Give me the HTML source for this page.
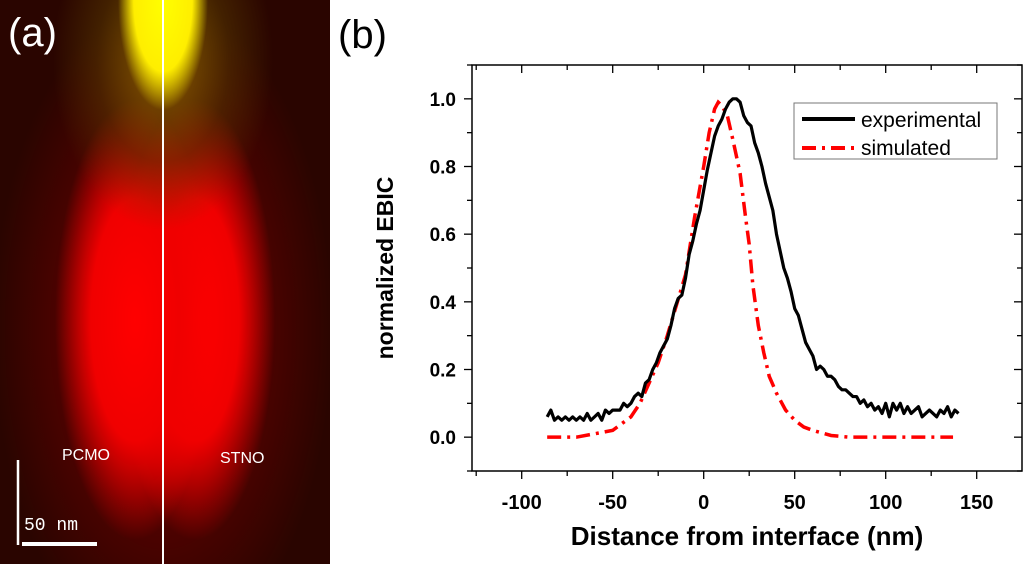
<!DOCTYPE html>
<html><head><meta charset="utf-8"><style>
body{margin:0;background:#fff;width:1024px;height:564px;overflow:hidden;position:relative;font-family:"Liberation Sans",sans-serif}
#img{position:absolute;left:0;top:0;width:330px;height:564px;background:
radial-gradient(ellipse 45px 110px at 163px 0px,#ffff00 0%,#ffee00 65%,rgba(255,200,0,0) 100%),
radial-gradient(ellipse 110px 170px at 163px 60px,rgba(150,110,0,0.85) 0%,rgba(90,60,0,0.5) 60%,rgba(0,0,0,0) 100%),
radial-gradient(ellipse 80px 220px at 135px 320px,#ff0000 0%,#f00000 55%,rgba(200,0,0,0) 100%),
radial-gradient(ellipse 80px 220px at 195px 320px,#ff0000 0%,#f00000 55%,rgba(200,0,0,0) 100%),
radial-gradient(ellipse 170px 330px at 163px 330px,rgba(170,0,0,0.9) 0%,rgba(100,0,0,0.6) 60%,rgba(30,0,0,0) 100%),
#2a0500}
</style></head><body>
<div id="img"></div>
<svg width="1024" height="564" style="position:absolute;left:0;top:0">
<text x="8" y="46" font-size="40" fill="#fff">(a)</text>
<line x1="163" y1="0" x2="163" y2="564" stroke="#fff" stroke-width="2"/>
<text x="62" y="460" font-size="16" fill="#fff">PCMO</text>
<text x="220" y="463" font-size="16" fill="#fff">STNO</text>
<line x1="18" y1="460" x2="18" y2="545" stroke="#fff" stroke-width="2.5"/>
<line x1="22" y1="544" x2="97" y2="544" stroke="#fff" stroke-width="4"/>
<text x="24" y="530" font-size="18" fill="#fff" font-family="Liberation Mono,monospace">50 nm</text>
<text x="338" y="48" font-size="40" fill="#000">(b)</text>
<g id="plot"></g>
</svg>
<script>
const expX=[-86,-84,-82,-80,-78,-76,-74,-72,-70,-68,-66,-64,-62,-60,-58,-56,-54,-52,-50,-48,-46,-44,-42,-40,-38,-36,-34,-32,-30,-28,-26,-24,-22,-20,-18,-16,-14,-12,-10,-8,-6,-4,-2,0,2,4,6,8,10,12,14,16,18,20,22,24,26,28,30,32,34,36,38,40,42,44,46,48,50,52,54,56,58,60,62,64,66,68,70,72,74,76,78,80,82,84,86,88,90,92,94,96,98,100,102,104,106,108,110,112,114,116,118,120,122,124,126,128,130,132,134,136,138,140];
const expY=[0.06,0.08,0.05,0.06,0.05,0.06,0.05,0.06,0.05,0.06,0.05,0.07,0.05,0.06,0.07,0.05,0.08,0.07,0.08,0.08,0.08,0.1,0.09,0.1,0.12,0.13,0.12,0.16,0.17,0.2,0.22,0.25,0.27,0.29,0.33,0.38,0.41,0.42,0.47,0.54,0.58,0.63,0.67,0.73,0.79,0.84,0.89,0.92,0.94,0.97,0.99,1.0,1.0,0.99,0.95,0.93,0.92,0.87,0.84,0.8,0.75,0.71,0.67,0.6,0.55,0.5,0.47,0.43,0.38,0.36,0.32,0.28,0.26,0.24,0.2,0.21,0.2,0.18,0.18,0.17,0.15,0.14,0.14,0.13,0.12,0.12,0.1,0.11,0.09,0.1,0.08,0.09,0.07,0.1,0.06,0.1,0.08,0.1,0.07,0.09,0.07,0.08,0.09,0.06,0.07,0.08,0.07,0.06,0.08,0.07,0.09,0.06,0.08,0.07];
const simX=[-86,-70,-60,-50,-40,-35,-30,-25,-20,-15,-10,-5,0,3,6,8,10,13,16,20,23,25,27,30,33,36,40,45,50,55,60,70,80,137];
const simY=[0,0,0.01,0.02,0.06,0.1,0.16,0.22,0.3,0.39,0.48,0.65,0.8,0.9,0.97,0.99,0.98,0.95,0.88,0.78,0.65,0.57,0.45,0.33,0.25,0.18,0.13,0.08,0.05,0.03,0.02,0.005,0,0];
const xTicks=[-100,-50,0,50,100,150];
const yTicks=[0.0,0.2,0.4,0.6,0.8,1.0];
const L=472,R=1022,T=65,B=471,y0=-0.1,y1=1.1;
const sx=v=>703.7+v*1.82, sy=v=>B-(v-y0)/(y1-y0)*(B-T);
const NS="http://www.w3.org/2000/svg",g=document.getElementById('plot');
function mk(t,a){const e=document.createElementNS(NS,t);for(const k in a)e.setAttribute(k,a[k]);g.appendChild(e);return e;}
let e=mk('rect',{x:L,y:T,width:R-L,height:B-T,fill:'none',stroke:'#000','stroke-width':1.5});


for(let v=-125;v<=175;v+=25){const px=sx(v);if(px<L+1||px>R-1)continue;const maj=xTicks.includes(v);const len=maj?8:5;
mk('line',{x1:px,y1:B,x2:px,y2:B+len,stroke:'#000','stroke-width':1.3});
mk('line',{x1:px,y1:T,x2:px,y2:T+len,stroke:'#000','stroke-width':1.3});}
xTicks.forEach(v=>{const t=mk('text',{x:sx(v),y:B+38,'text-anchor':'middle','font-size':20,'font-weight':'bold'});t.textContent=v;

});
for(let v=-0.1;v<=1.11;v+=0.1){const maj=yTicks.some(y=>Math.abs(y-v)<1e-6);const len=maj?8:5;
mk('line',{x1:L,y1:sy(v),x2:L-len,y2:sy(v),stroke:'#000','stroke-width':1.3});
mk('line',{x1:R,y1:sy(v),x2:R-len,y2:sy(v),stroke:'#000','stroke-width':1.3});}
yTicks.forEach(v=>{const t=mk('text',{x:456,y:sy(v)+7,'text-anchor':'end','font-size':19,'font-weight':'bold'});t.textContent=v.toFixed(1);

});
e=mk('path',{d:simX.map((v,i)=>(i?'L':'M')+sx(v)+' '+sy(simY[i])).join(''),fill:'none',stroke:'#f00','stroke-width':3.5,'stroke-dasharray':'14 6 3 6'});


e=mk('path',{d:expX.map((v,i)=>(i?'L':'M')+sx(v)+' '+sy(expY[i])).join(''),fill:'none',stroke:'#000','stroke-width':3.2,'stroke-linejoin':'round'});


e=mk('rect',{x:794,y:103,width:203,height:56,fill:'#fff',stroke:'#777','stroke-width':1});


mk('line',{x1:802,y1:119,x2:855,y2:119,stroke:'#000','stroke-width':4});
e=mk('text',{x:861,y:127,'font-size':21});e.textContent='experimental';


mk('line',{x1:802,y1:148,x2:855,y2:148,stroke:'#f00','stroke-width':4,'stroke-dasharray':'14 6 3 6'});
e=mk('text',{x:861,y:155,'font-size':21});e.textContent='simulated';


e=mk('text',{x:747,y:545,'text-anchor':'middle','font-size':26,'font-weight':'bold'});e.textContent='Distance from interface (nm)';


e=mk('text',{x:0,y:0,transform:'translate(393,268) rotate(-90)','text-anchor':'middle','font-size':23,'font-weight':'bold'});e.textContent='normalized EBIC';


</script>
</body></html>
